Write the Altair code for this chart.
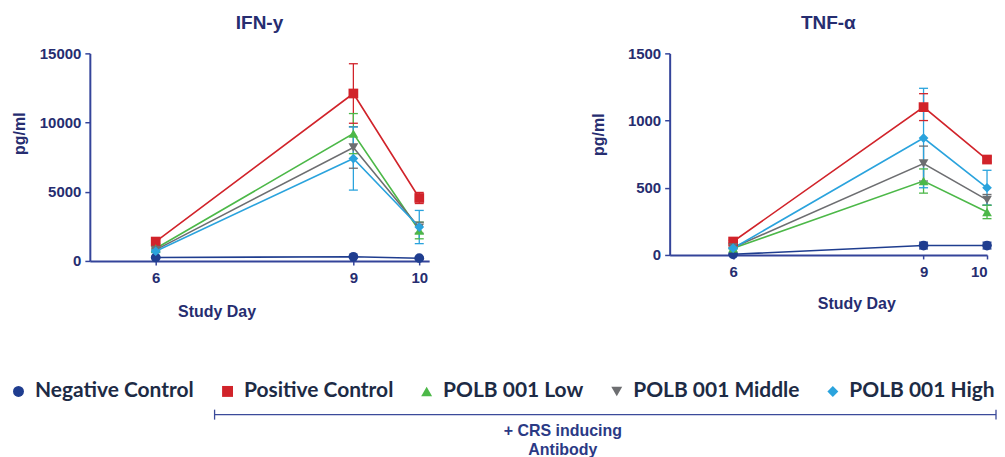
import altair as alt
import pandas as pd

groups = ["Negative Control", "Positive Control", "POLB 001 Low", "POLB 001 Middle", "POLB 001 High"]
colors = ["#1f3d8f", "#d1232a", "#4cb848", "#6d6e71", "#2aa3dd"]
shapes = ["circle", "square", "triangle-up", "triangle-down", "diamond"]
days = [6, 9, 10]

# IFN-y (pg/ml): mean and error per group, days 6, 9, 10
ifn_neg = [250, 300, 200]
ifn_neg_err = [60, 60, 60]
ifn_pos = [1400, 12100, 4550]
ifn_pos_err = [150, 2150, 400]
ifn_low = [900, 9200, 2200]
ifn_low_err = [100, 1450, 600]
ifn_mid = [800, 8200, 2400]
ifn_mid_err = [100, 1500, 400]
ifn_high = [700, 7400, 2450]
ifn_high_err = [100, 2280, 1200]

# TNF-alpha (pg/ml)
tnf_neg = [5, 70, 70]
tnf_neg_err = [5, 25, 25]
tnf_pos = [100, 1100, 710]
tnf_pos_err = [10, 100, 20]
tnf_low = [50, 550, 320]
tnf_low_err = [5, 90, 50]
tnf_mid = [55, 680, 410]
tnf_mid_err = [5, 130, 40]
tnf_high = [50, 870, 500]
tnf_high_err = [5, 370, 130]

ifn_ticks = [0, 5000, 10000, 15000]
tnf_ticks = [0, 500, 1000, 1500]


def make_df(series, errs):
    rows = []
    for g, vals, es in zip(groups, series, errs):
        for d, v, e in zip(days, vals, es):
            rows.append({"group": g, "day": d, "value": v, "lo": max(v - e, 0), "hi": v + e})
    return pd.DataFrame(rows)


ifn_df = make_df([ifn_neg, ifn_pos, ifn_low, ifn_mid, ifn_high],
                 [ifn_neg_err, ifn_pos_err, ifn_low_err, ifn_mid_err, ifn_high_err])
tnf_df = make_df([tnf_neg, tnf_pos, tnf_low, tnf_mid, tnf_high],
                 [tnf_neg_err, tnf_pos_err, tnf_low_err, tnf_mid_err, tnf_high_err])

AXIS_COL = "#34449a"
TEXT_COL = "#262d70"
FONT = "Liberation Sans"

color_scale = alt.Scale(domain=groups, range=colors)
shape_scale = alt.Scale(domain=groups, range=shapes)


def panel(df, title, ydomain, yticks, width, height, xdomain, xtitle_x, xtitle_y, ytitle_x, ytitle_y, legend):
    base = alt.Chart(df)
    x = alt.X("day:Q", scale=alt.Scale(domain=xdomain, nice=False, zero=False),
              axis=alt.Axis(values=days, title="Study Day", format="d",
                            titleX=xtitle_x, titleY=xtitle_y, titleBaseline="middle", titleAlign="center",
                            tickSize=4, labelPadding=6))
    y = alt.Y("value:Q", scale=alt.Scale(domain=ydomain, nice=False),
              axis=alt.Axis(values=yticks, title="pg/ml", format="d", titleX=ytitle_x, titleY=ytitle_y,
                            titleBaseline="middle", titleAlign="center", titleAngle=270,
                            tickSize=5, labelPadding=4))
    stroke = alt.Stroke("group:N", scale=color_scale, legend=None)
    line = base.mark_line(strokeWidth=1.6).encode(x=x, y=y, stroke=stroke)
    bars = base.mark_rule(strokeWidth=1.3).encode(x=x, y=alt.Y("lo:Q"), y2="hi:Q", stroke=stroke)
    cap_lo = base.mark_rule(strokeWidth=1.3, xOffset=-4.5, x2Offset=4.5).encode(
        x=x, x2="day:Q", y=alt.Y("lo:Q"), stroke=stroke)
    cap_hi = base.mark_rule(strokeWidth=1.3, xOffset=-4.5, x2Offset=4.5).encode(
        x=x, x2="day:Q", y=alt.Y("hi:Q"), stroke=stroke)
    if legend is None:
        col = alt.Color("group:N", scale=color_scale, legend=None)
        shp = alt.Shape("group:N", scale=shape_scale, legend=None)
    else:
        col = alt.Color("group:N", scale=color_scale, legend=legend)
        shp = alt.Shape("group:N", scale=shape_scale, legend=legend)
    pts = base.mark_point(filled=True, size=95, opacity=1).encode(x=x, y=y, color=col, shape=shp)
    return alt.layer(bars, cap_lo, cap_hi, line, pts).properties(
        width=width, height=height,
        title=alt.TitleParams(title, fontSize=19, font=FONT, fontWeight="bold", color=TEXT_COL,
                              offset=13, frame="group", anchor="middle"),
    )


legend = alt.Legend(
    orient="none", legendX=-82, legendY=328, direction="horizontal", title=None,
    labelFont="Lato", labelFontSize=21, labelFontWeight="bold", labelColor="#1d2b45",
    labelLimit=400, symbolSize=120, symbolStrokeWidth=0, labelOffset=6, columnPadding=22.5,
    padding=0,
)

left = panel(ifn_df, "IFN-y", [0, 15000], ifn_ticks, 340, 208, [5, 10.15], 127, 51, -70, 80, legend)
right = panel(tnf_df, "TNF-α", [0, 1500], tnf_ticks, 318, 202, [5, 10], 187, 49, -71, 81, None)

# bracket annotation below legend (positions relative to left plot origin)
one = alt.Chart(pd.DataFrame({"k": [0]}))
bracket = one.mark_rule(color="#3b4a9a", strokeWidth=1.3).encode(
    x=alt.value(125), x2=alt.value(908), y=alt.value(362))
end_l = one.mark_rule(color="#3b4a9a", strokeWidth=1.3).encode(
    x=alt.value(125), y=alt.value(357), y2=alt.value(367))
end_r = one.mark_rule(color="#3b4a9a", strokeWidth=1.3).encode(
    x=alt.value(908), y=alt.value(357), y2=alt.value(367))
crs = one.mark_text(text=["+ CRS inducing", "Antibody"], font=FONT, fontSize=16, fontWeight="bold",
                    color="#2b3a85", lineHeight=19, baseline="middle", align="center").encode(
    x=alt.value(474), y=alt.value(378))

left_full = alt.layer(left, bracket, end_l, end_r, crs)

chart = alt.hconcat(left_full, right, spacing=241, bounds="flush").properties(
    padding={"top": 6, "left": 0, "right": 0, "bottom": 0},
).configure_view(stroke=None).configure_axis(
    grid=False, domainColor=AXIS_COL, domainWidth=2, tickColor=AXIS_COL, tickWidth=1.5,
    labelFont=FONT, labelFontSize=15, labelFontWeight="bold", labelColor=TEXT_COL,
    titleFont=FONT, titleFontSize=16, titleFontWeight="bold", titleColor=TEXT_COL,
).resolve_scale(x="independent", y="independent").resolve_legend(color="independent", shape="independent")

chart.save("out.html", embed_options={"renderer": "svg", "actions": False})
